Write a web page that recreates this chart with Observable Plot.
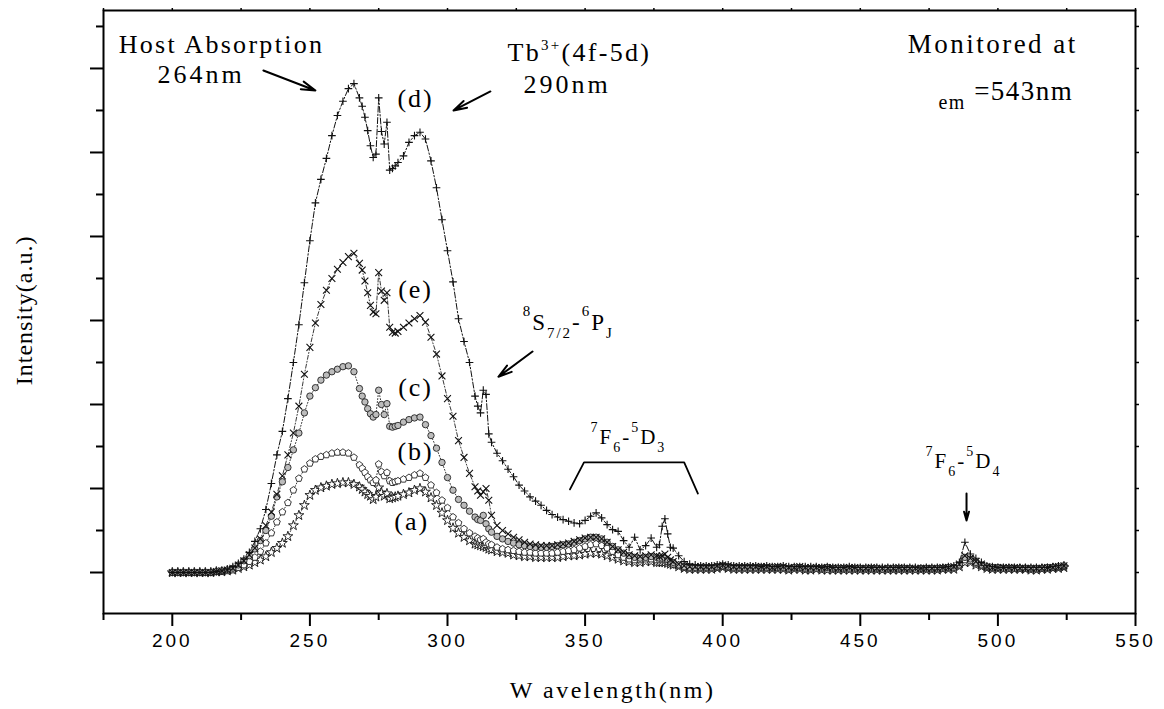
<!DOCTYPE html>
<html><head><meta charset="utf-8">
<script src="https://cdn.jsdelivr.net/npm/d3@7"></script>
<script src="https://cdn.jsdelivr.net/npm/@observablehq/plot@0.6"></script>
<style>
body{margin:0;background:#fff}
[aria-label="x-axis tick label"] text{letter-spacing:3px}
</style></head><body><div id="chart"></div>
<script>
// ---- data (wavelength in nm, intensity in arbitrary units) ----
const wavelength = [
200,202,204,206,208,210,212,214,216,218,220,222,224,226,228,230,232,234,236,238,240,242,244,246,248,250,252,254,256,258,260,262,264,266,268,
269,270,271,272,273,274,275,276,277,278,279,280,281,282,
284,286,288,290,292,294,296,298,300,302,304,306,308,310,
311,312,313,314,315,316,
318,320,322,324,326,328,330,332,334,336,338,340,342,344,346,348,350,352,354,356,358,360,362,364,366,368,370,372,374,376,
377,378,379,380,381,382,
384,386,388,
390,392,394,396,398,400,402,404,406,408,410,412,414,416,418,420,422,424,426,428,430,432,434,436,438,440,442,444,446,448,450,452,454,456,458,460,462,464,466,468,470,472,474,476,478,480,482,484,
486,488,490,492,494,496,498,500,502,504,506,508,510,512,514,516,518,520,522,524];

const sampleD = [
0,0,0,0,0,0,0,0,0.01,0.02,0.04,0.07,0.11,0.16,0.24,0.37,0.52,0.75,1.06,1.40,1.68,2.07,2.50,2.95,3.45,3.95,4.40,4.68,4.93,5.20,5.44,5.61,5.76,5.82,5.65,
5.55,5.42,5.26,5.08,4.94,4.98,5.65,5.25,5.10,5.36,4.79,4.81,4.84,4.88,
4.96,5.12,5.20,5.24,5.16,4.90,4.58,4.20,3.83,3.46,3.02,2.75,2.50,2.10,
1.98,1.90,2.17,2.12,1.65,1.55,
1.42,1.33,1.23,1.14,1.04,0.97,0.90,0.85,0.80,0.74,0.69,0.66,0.63,0.61,0.59,0.58,0.62,0.67,0.71,0.65,0.57,0.51,0.49,0.38,0.30,0.42,0.27,0.32,0.41,0.30,
0.33,0.55,0.64,0.46,0.30,0.29,
0.20,0.13,0.10,
0.09,0.08,0.08,0.08,0.09,0.10,0.09,0.08,0.08,0.08,0.08,0.08,0.07,0.08,0.07,0.07,0.08,0.07,0.07,0.07,0.07,0.07,0.07,0.06,0.07,0.06,0.06,0.06,0.07,0.06,0.06,0.06,0.06,0.06,0.06,0.06,0.06,0.06,0.06,0.06,0.06,0.05,0.06,0.06,0.06,0.06,0.07,0.08,
0.12,0.36,0.22,0.17,0.12,0.08,0.07,0.06,0.06,0.06,0.06,0.06,0.06,0.06,0.06,0.06,0.06,0.07,0.08,0.09];

const sampleE = [
0,0,0,0,0,0,0,0,0.01,0.02,0.03,0.05,0.09,0.14,0.21,0.29,0.40,0.56,0.72,0.93,1.15,1.40,1.66,1.98,2.36,2.68,2.97,3.19,3.36,3.50,3.61,3.69,3.76,3.80,3.68,
3.60,3.47,3.33,3.18,3.10,3.08,3.57,3.35,3.24,3.33,2.92,2.86,2.85,2.87,
2.92,2.97,3.02,3.06,2.98,2.80,2.60,2.34,2.07,1.86,1.57,1.37,1.18,1.02,
0.97,0.92,0.96,1.00,0.86,0.68,
0.56,0.50,0.46,0.42,0.39,0.36,0.34,0.33,0.32,0.32,0.32,0.33,0.34,0.35,0.37,0.39,0.41,0.42,0.42,0.40,0.36,0.31,0.27,0.24,0.21,0.20,0.19,0.20,0.21,0.20,
0.19,0.20,0.22,0.18,0.15,0.13,
0.10,0.08,0.07,
0.07,0.07,0.07,0.07,0.08,0.09,0.08,0.07,0.07,0.07,0.07,0.07,0.07,0.07,0.06,0.07,0.07,0.06,0.06,0.07,0.06,0.06,0.06,0.06,0.06,0.06,0.05,0.06,0.06,0.06,0.05,0.05,0.06,0.05,0.05,0.05,0.05,0.06,0.05,0.05,0.05,0.05,0.05,0.05,0.05,0.06,0.06,0.07,
0.10,0.20,0.17,0.13,0.10,0.07,0.06,0.06,0.06,0.06,0.06,0.05,0.05,0.05,0.05,0.05,0.06,0.06,0.07,0.08];

const sampleC = [
0,0,0,0,0,0,0,0,0.01,0.02,0.03,0.05,0.09,0.14,0.20,0.28,0.38,0.50,0.67,0.90,1.08,1.25,1.46,1.66,1.90,2.10,2.20,2.29,2.35,2.39,2.42,2.45,2.46,2.39,2.19,
2.10,2.03,1.95,1.89,1.85,1.88,2.17,2.00,1.88,2.01,1.74,1.73,1.74,1.75,
1.79,1.82,1.84,1.85,1.76,1.63,1.48,1.31,1.13,0.98,0.87,0.80,0.73,0.66,
0.63,0.62,0.68,0.58,0.52,0.48,
0.43,0.40,0.37,0.35,0.33,0.32,0.31,0.30,0.30,0.30,0.31,0.32,0.33,0.34,0.36,0.38,0.40,0.42,0.42,0.40,0.36,0.31,0.27,0.23,0.20,0.18,0.17,0.18,0.19,0.18,
0.17,0.17,0.17,0.15,0.13,0.12,
0.09,0.07,0.06,
0.06,0.06,0.06,0.06,0.07,0.08,0.07,0.06,0.06,0.06,0.06,0.06,0.06,0.06,0.06,0.06,0.06,0.05,0.06,0.06,0.05,0.05,0.05,0.05,0.06,0.05,0.05,0.05,0.05,0.05,0.05,0.05,0.05,0.05,0.04,0.05,0.05,0.05,0.05,0.05,0.04,0.05,0.05,0.05,0.05,0.05,0.06,0.06,
0.09,0.18,0.16,0.12,0.09,0.07,0.06,0.06,0.05,0.05,0.05,0.05,0.05,0.05,0.05,0.05,0.06,0.06,0.07,0.08];

const sampleB = [
0,0,0,0,0,0,0,0,0.01,0.01,0.02,0.03,0.06,0.09,0.13,0.18,0.25,0.35,0.47,0.60,0.72,0.83,0.98,1.12,1.23,1.30,1.35,1.38,1.40,1.42,1.43,1.43,1.42,1.37,1.28,
1.24,1.19,1.14,1.10,1.07,1.10,1.29,1.20,1.15,1.19,1.09,1.07,1.08,1.09,
1.11,1.13,1.16,1.18,1.13,1.04,0.95,0.86,0.77,0.66,0.59,0.52,0.47,0.43,
0.41,0.39,0.40,0.36,0.34,0.33,
0.30,0.28,0.27,0.26,0.25,0.24,0.24,0.23,0.23,0.23,0.23,0.24,0.25,0.26,0.27,0.29,0.31,0.33,0.34,0.32,0.29,0.25,0.21,0.18,0.16,0.15,0.15,0.16,0.16,0.15,
0.15,0.15,0.15,0.13,0.12,0.10,
0.08,0.06,0.05,
0.05,0.05,0.05,0.05,0.06,0.07,0.06,0.05,0.05,0.05,0.05,0.05,0.05,0.05,0.05,0.05,0.05,0.04,0.05,0.05,0.04,0.04,0.05,0.04,0.04,0.04,0.04,0.04,0.04,0.04,0.04,0.04,0.04,0.04,0.04,0.04,0.04,0.04,0.04,0.04,0.04,0.04,0.04,0.04,0.04,0.05,0.05,0.05,
0.08,0.15,0.14,0.11,0.08,0.06,0.05,0.05,0.05,0.05,0.05,0.05,0.05,0.04,0.04,0.05,0.05,0.06,0.06,0.07];

const sampleA = [
0,0,0,0,0,0,0,0,0.01,0.01,0.02,0.03,0.05,0.07,0.09,0.12,0.15,0.19,0.24,0.29,0.35,0.43,0.56,0.68,0.80,0.92,0.98,1.01,1.03,1.05,1.06,1.07,1.07,1.05,1.02,
0.99,0.96,0.93,0.91,0.87,0.90,1.01,0.95,0.91,0.94,0.88,0.89,0.90,0.91,
0.93,0.95,0.98,1.00,0.96,0.89,0.80,0.71,0.62,0.53,0.47,0.42,0.38,0.34,
0.33,0.32,0.31,0.30,0.28,0.27,
0.25,0.24,0.23,0.21,0.20,0.19,0.19,0.18,0.18,0.18,0.18,0.18,0.19,0.20,0.20,0.21,0.22,0.23,0.23,0.22,0.20,0.18,0.16,0.14,0.13,0.12,0.12,0.13,0.13,0.12,
0.12,0.12,0.12,0.11,0.10,0.09,
0.07,0.05,0.04,
0.04,0.04,0.04,0.04,0.05,0.06,0.05,0.04,0.04,0.04,0.04,0.04,0.04,0.04,0.04,0.04,0.04,0.03,0.04,0.04,0.03,0.03,0.04,0.03,0.03,0.03,0.03,0.03,0.03,0.03,0.03,0.03,0.03,0.03,0.03,0.03,0.03,0.03,0.03,0.03,0.03,0.03,0.03,0.03,0.03,0.04,0.04,0.04,
0.07,0.12,0.12,0.09,0.07,0.05,0.04,0.04,0.04,0.04,0.04,0.04,0.04,0.03,0.03,0.04,0.04,0.05,0.05,0.06];

const sampleLabels = ["(a)", "(b)", "(c)", "(d)", "(e)"];
const xMajorTicks = [200, 250, 300, 350, 400, 450, 500, 550];
const xMinorTicks = [175, 225, 275, 325, 375, 425, 475, 525];
const yMajorTicks = [0, 1, 2, 3, 4, 5, 6];
const yMinorTicks = [0.5, 1.5, 2.5, 3.5, 4.5, 5.5, 6.5];

// ---- build ----
[sampleA, sampleB, sampleC, sampleD, sampleE].forEach((s, i) => {
  if (s.length !== wavelength.length) throw new Error("length mismatch " + i + ": " + s.length + " vs " + wavelength.length);
});
const rows = (vals) => wavelength.map((w, i) => ({wavelength: w, intensity: vals[i]}));
const dataA = rows(sampleA), dataB = rows(sampleB), dataC = rows(sampleC), dataD = rows(sampleD), dataE = rows(sampleE);

const pentagon = {
  draw(ctx, size) {
    const r = Math.sqrt(size / 2.378);
    for (let k = 0; k < 5; k++) {
      const a = -Math.PI / 2 + k * 2 * Math.PI / 5;
      const x = r * Math.cos(a), y = r * Math.sin(a);
      if (k) ctx.lineTo(x, y); else ctx.moveTo(x, y);
    }
    ctx.closePath();
  }
};

const serif = "Liberation Serif, Times New Roman, serif";
const sans = "Liberation Sans, Arial, sans-serif";
const xy = {x: "wavelength", y: "intensity"};
const none = () => "";

function label(str, x, y, fontSize, extra = {}) {
  return Plot.text([str], {x, y, text: d => d, fontSize, fontFamily: serif, fill: "black", textAnchor: "start", lineAnchor: "middle", ...extra});
}
const arrowStyle = {headLength: 11, headAngle: 32, strokeWidth: 2, stroke: "black"};

const plot = Plot.plot({
  width: 1164, height: 709,
  marginLeft: 103, marginRight: 29, marginTop: 10, marginBottom: 96,
  style: {fontFamily: sans, background: "white", color: "black", overflow: "visible"},
  x: {domain: [175, 550]},
  y: {domain: [-0.488, 6.69]},
  marks: [
    // axes
    Plot.axisX({ticks: xMajorTicks, tickSize: 13, tickPadding: 7, fontSize: 19, strokeWidth: 2, label: null, tickFormat: d => String(d)}),
    Plot.axisX({ticks: xMinorTicks, tickSize: 7, strokeWidth: 2, label: null, tickFormat: none}),
    Plot.axisX({anchor: "top", ticks: xMajorTicks.concat(xMinorTicks), tickSize: 3, strokeWidth: 1.5, label: null, tickFormat: none}),
    Plot.axisY({ticks: yMajorTicks, tickSize: 13, strokeWidth: 2, label: null, tickFormat: none}),
    Plot.axisY({ticks: yMinorTicks, tickSize: 7, strokeWidth: 2, label: null, tickFormat: none}),
    Plot.axisY({anchor: "right", ticks: yMajorTicks.concat(yMinorTicks), tickSize: 3, strokeWidth: 1.5, label: null, tickFormat: none}),
    Plot.frame({stroke: "black", strokeWidth: 2}),

    // connecting lines
    Plot.line(dataA, {...xy, stroke: "#222", strokeWidth: 0.9, strokeDasharray: "1,2"}),
    Plot.line(dataB, {...xy, stroke: "#222", strokeWidth: 0.9, strokeDasharray: "1,2"}),
    Plot.line(dataC, {...xy, stroke: "#222", strokeWidth: 0.9, strokeDasharray: "1,2"}),
    Plot.line(dataE, {...xy, stroke: "#222", strokeWidth: 0.9, strokeDasharray: "4,2,1,2"}),
    Plot.line(dataD, {...xy, stroke: "#111", strokeWidth: 1, strokeDasharray: "6,2,1.5,2"}),

    // markers
    Plot.dot(dataA, {...xy, symbol: "star", r: 3.1, fill: "white", stroke: "#111", strokeWidth: 0.9}),
    Plot.dot(dataB, {...xy, symbol: pentagon, r: 3.1, fill: "white", stroke: "#222", strokeWidth: 0.9}),
    Plot.dot(dataC, {...xy, symbol: "circle", r: 3.2, fill: "#bcbcbc", stroke: "#222", strokeWidth: 0.9}),
    Plot.dot(dataE, {...xy, symbol: "times", r: 3.2, stroke: "#111", strokeWidth: 1.1}),
    Plot.dot(dataD, {...xy, symbol: "plus", r: 2.6, stroke: "#111", strokeWidth: 1.1}),

    // sample labels
    label(sampleLabels[3], 288.4, 5.64, 26, {textAnchor: "middle"}),
    label(sampleLabels[4], 288.4, 3.37, 26, {textAnchor: "middle"}),
    label(sampleLabels[2], 288.4, 2.20, 26, {textAnchor: "middle"}),
    label(sampleLabels[1], 288.4, 1.44, 26, {textAnchor: "middle"}),
    label(sampleLabels[0], 287.0, 0.60, 26, {textAnchor: "middle"}),

    // annotations
    label("Host Absorption", 180.5, 6.286, 26),
    label("264nm", 194.6, 5.93, 26),
    label("Tb{3+}(4f-5d)", 321.8, 6.185, 26),
    label("290nm", 327.6, 5.81, 26),
    label("Monitored at", 467.2, 6.286, 27),
    label("[em] =543nm", 478.4, 5.726, 27),
    label("{8}S[7/2]-{6}P[J]", 327.3, 2.97, 23),
    label("{7}F[6]-{5}D[3]", 351.96, 1.613, 21),
    label("{7}F[6]-{5}D[4]", 473.7, 1.32, 21),
    label("Intensity(a.u.)", 146.3, 3.12, 24, {textAnchor: "middle", rotate: -90}),
    label("W avelength(nm)", 360, -1.405, 24, {textAnchor: "middle"}),

    Plot.arrow([0], {x1: 233.1, y1: 5.976, x2: 252.0, y2: 5.738, ...arrowStyle}),
    Plot.arrow([0], {x1: 315.6, y1: 5.726, x2: 302.2, y2: 5.50, ...arrowStyle}),
    Plot.arrow([0], {x1: 330.9, y1: 2.63, x2: 318.5, y2: 2.33, ...arrowStyle}),
    Plot.arrow([0], {x1: 488.6, y1: 0.94, x2: 488.6, y2: 0.62, ...arrowStyle}),
    Plot.line([0, 1, 2, 3], {x: [344.5, 349.6, 386, 391], y: [0.99, 1.31, 1.31, 0.94], stroke: "black", strokeWidth: 1.8})
  ]
});

document.getElementById("chart").append(plot);

// ---- text styling: letter spacing and super/subscripts ----
const textStyle = {
  "Host Absorption": {ls: 2.3}, "264nm": {ls: 3}, "290nm": {ls: 3},
  "Tb{3+}(4f-5d)": {ls: 2.3, small: 15, up: 11, down: 0},
  "Monitored at": {ls: 2.5},
  "[em] =543nm": {ls: 1.5, small: 20, up: 0, down: 9},
  "{8}S[7/2]-{6}P[J]": {ls: 2, small: 15, up: 14, down: 8},
  "{7}F[6]-{5}D[3]": {ls: 2, small: 14, up: 12, down: 8},
  "{7}F[6]-{5}D[4]": {ls: 2, small: 14, up: 12, down: 8},
  "(a)": {ls: 2}, "(b)": {ls: 2}, "(c)": {ls: 2}, "(d)": {ls: 2}, "(e)": {ls: 2},
  "Intensity(a.u.)": {ls: 1}, "W avelength(nm)": {ls: 2.5}
};
const NS = "http://www.w3.org/2000/svg";
plot.querySelectorAll("text").forEach(el => {
  const s = el.textContent;
  const st = textStyle[s];
  if (!st) return;
  el.setAttribute("letter-spacing", st.ls + "px");
  if (!/[{\[]/.test(s)) return;
  const fs = parseFloat(getComputedStyle(el).fontSize) || 20;
  const dyAttr = el.getAttribute("dy");
  let base = 0;
  if (dyAttr) { base = dyAttr.endsWith("em") ? parseFloat(dyAttr) * fs : parseFloat(dyAttr); el.removeAttribute("dy"); }
  el.textContent = "";
  const re = /\{([^}]*)\}|\[([^\]]*)\]|([^{\[]+)/g;
  let m, cur = -base;
  while ((m = re.exec(s))) {
    const t = document.createElementNS(NS, "tspan");
    let target = 0, txt, small = false;
    if (m[1] != null) { target = -st.up; txt = m[1]; small = true; }
    else if (m[2] != null) { target = st.down; txt = m[2]; small = true; }
    else { txt = m[3]; }
    t.setAttribute("dy", (target - cur));
    cur = target;
    if (small) t.setAttribute("font-size", st.small);
    t.textContent = txt;
    el.appendChild(t);
  }
});
</script>
</body></html>
